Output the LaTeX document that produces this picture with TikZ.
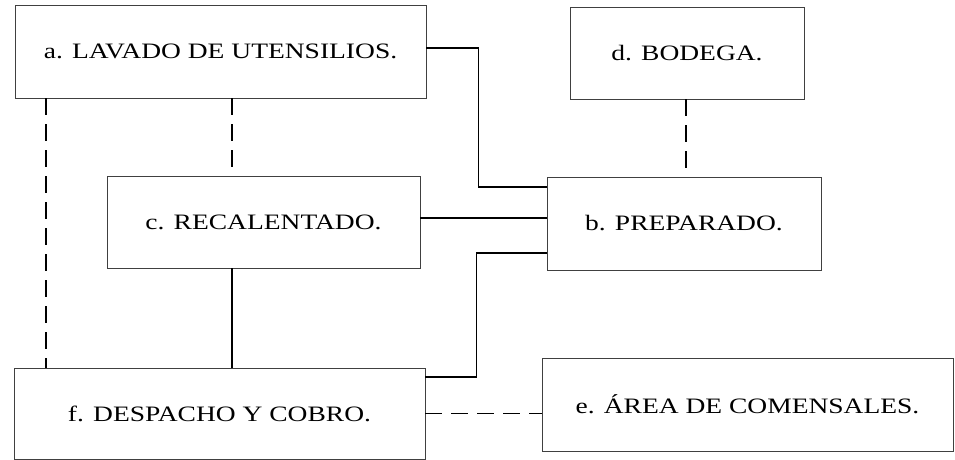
\documentclass[tikz,border=0pt]{standalone}
\usepackage{fontspec}
\setmainfont{Liberation Serif}[FakeStretch=1.25]
\usepackage{tikz}

\begin{document}
\begin{tikzpicture}[x=1pt, y=-1pt,
    area/.style={draw=black!75, line width=0.7pt, inner sep=0pt,
      font=\fontsize{22}{26}\selectfont},
    enlace/.style={draw=black, line width=1.4pt},
    enlacedash/.style={draw=black, line width=1.4pt, dash pattern=on 17pt off 9pt}]
    \useasboundingbox (0,0) rectangle (955,460);
    % areas of the kitchen
    \node[area, minimum width=411pt, minimum height=93pt] (lavado) at (220.5,51.5) {a. LAVADO DE UTENSILIOS.};
    \node[area, minimum width=234pt, minimum height=92pt] (bodega) at (687,53) {d. BODEGA.};
    \node[area, minimum width=313pt, minimum height=92pt] (recalentado) at (263.5,222) {c. RECALENTADO.};
    \node[area, minimum width=274pt, minimum height=93pt] (preparado) at (684,223.5) {b. PREPARADO.};
    \node[area, minimum width=411pt, minimum height=91pt] (despacho) at (219.5,413.5) {f. DESPACHO Y COBRO.};
    \node[area, minimum width=411pt, minimum height=93pt] (comensales) at (747.5,404.5) {e. ÁREA DE COMENSALES.};
    % vertical axes of the links
    \coordinate (ejeizq) at (46,0);
    \coordinate (eje) at (232,0);
    \coordinate (ejeder) at (686,0);
    % solid links
    \draw[enlace] ([yshift=3.5pt]lavado.east) -- ++(52,0) |- ([yshift=36.5pt]preparado.west);
    \draw[enlace] ([yshift=4pt]recalentado.east) -- ([yshift=4pt]recalentado.east -| preparado.west);
    \draw[enlace] ([yshift=-29.5pt]preparado.west) -- ++(-70,0) |- ([yshift=36.5pt]despacho.east);
    \draw[enlace] (recalentado.south -| eje) -- (despacho.north -| eje);
    % dashed links
    \draw[enlacedash] (lavado.south -| ejeizq) -- (despacho.north -| ejeizq);
    \draw[enlacedash] (lavado.south -| eje) -- (recalentado.north -| eje);
    \draw[enlacedash] (bodega.south -| ejeder) -- (preparado.north -| ejeder);
    \draw[enlacedash] (despacho.east) -- (despacho.east -| comensales.west);
\end{tikzpicture}
\end{document}
